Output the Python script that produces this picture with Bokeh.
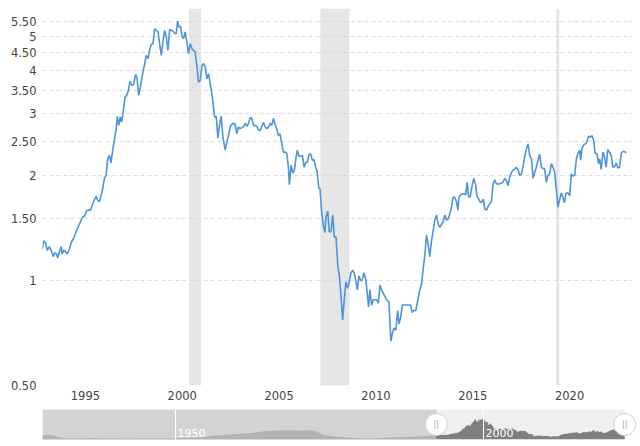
from bokeh.plotting import figure
from bokeh.layouts import column
from bokeh.models import Range1d, FixedTicker, BoxAnnotation
from bokeh.embed import file_html
from bokeh.resources import INLINE
from bokeh.core.properties import value

# ---------------- data ----------------
years = [1992.77, 1992.85, 1992.94, 1993.03, 1993.14, 1993.25, 1993.34, 1993.42, 1993.51, 1993.57,
         1993.68, 1993.75, 1993.80, 1993.88, 1993.97, 1994.06, 1994.18, 1994.28, 1994.40, 1994.52,
         1994.62, 1994.74, 1994.86, 1994.96, 1995.05, 1995.17, 1995.26, 1995.35, 1995.46, 1995.55,
         1995.63, 1995.72, 1995.81, 1995.89, 1995.98, 1996.07, 1996.15, 1996.24, 1996.32, 1996.41,
         1996.49, 1996.58, 1996.65, 1996.72, 1996.80, 1996.87, 1996.96, 1997.05, 1997.13, 1997.22,
         1997.30, 1997.39, 1997.49, 1997.59, 1997.66, 1997.75, 1997.84, 1997.92, 1998.06, 1998.14,
         1998.23, 1998.31, 1998.40, 1998.49, 1998.57, 1998.66, 1998.75, 1998.83, 1998.92, 1999.01,
         1999.09, 1999.18, 1999.26, 1999.35, 1999.43, 1999.52, 1999.60, 1999.69, 1999.76, 1999.83,
         1999.91, 2000.00, 2000.07, 2000.15, 2000.24, 2000.32, 2000.41, 2000.50, 2000.58, 2000.67,
         2000.76, 2000.84, 2000.93, 2001.02, 2001.10, 2001.19, 2001.27, 2001.36, 2001.44, 2001.53,
         2001.61, 2001.67, 2001.75, 2001.84, 2001.92, 2002.01, 2002.10, 2002.22, 2002.30, 2002.39,
         2002.47, 2002.56, 2002.64, 2002.73, 2002.82, 2002.90, 2002.99, 2003.08, 2003.16, 2003.25,
         2003.34, 2003.42, 2003.51, 2003.59, 2003.68, 2003.76, 2003.85, 2003.93, 2004.02, 2004.11,
         2004.19, 2004.28, 2004.37, 2004.45, 2004.54, 2004.62, 2004.71, 2004.79, 2004.88, 2004.96,
         2005.05, 2005.14, 2005.22, 2005.31, 2005.40, 2005.48, 2005.53, 2005.62, 2005.71, 2005.79,
         2005.88, 2005.94, 2006.03, 2006.12, 2006.20, 2006.29, 2006.38, 2006.46, 2006.55, 2006.63,
         2006.72, 2006.80, 2006.89, 2006.97, 2007.05, 2007.11, 2007.20, 2007.28, 2007.36, 2007.42,
         2007.51, 2007.59, 2007.68, 2007.77, 2007.85, 2007.94, 2008.03, 2008.11, 2008.20, 2008.28,
         2008.37, 2008.45, 2008.54, 2008.62, 2008.71, 2008.80, 2008.88, 2008.97, 2009.04, 2009.12,
         2009.21, 2009.29, 2009.38, 2009.47, 2009.55, 2009.62, 2009.69, 2009.78, 2009.86, 2009.95,
         2010.04, 2010.12, 2010.21, 2010.29, 2010.38, 2010.46, 2010.55, 2010.67, 2010.77, 2010.86,
         2010.94, 2011.03, 2011.12, 2011.19, 2011.27, 2011.36, 2011.46, 2011.58, 2011.67, 2011.79,
         2011.87, 2011.96, 2012.06, 2012.18, 2012.27, 2012.36, 2012.44, 2012.53, 2012.61, 2012.70,
         2012.78, 2012.87, 2012.95, 2013.04, 2013.13, 2013.21, 2013.30, 2013.39, 2013.47, 2013.56,
         2013.64, 2013.73, 2013.81, 2013.90, 2013.98, 2014.07, 2014.16, 2014.23, 2014.29, 2014.38,
         2014.47, 2014.55, 2014.64, 2014.71, 2014.78, 2014.86, 2014.95, 2015.05, 2015.14, 2015.22,
         2015.31, 2015.40, 2015.48, 2015.55, 2015.62, 2015.71, 2015.79, 2015.88, 2015.96, 2016.05,
         2016.13, 2016.22, 2016.30, 2016.39, 2016.48, 2016.56, 2016.65, 2016.74, 2016.82, 2016.91,
         2017.00, 2017.08, 2017.16, 2017.25, 2017.34, 2017.42, 2017.51, 2017.59, 2017.68, 2017.77,
         2017.85, 2017.94, 2018.03, 2018.11, 2018.20, 2018.28, 2018.37, 2018.45, 2018.54, 2018.62,
         2018.71, 2018.80, 2018.88, 2018.97, 2019.06, 2019.14, 2019.23, 2019.31, 2019.40, 2019.48,
         2019.57, 2019.65, 2019.74, 2019.81, 2019.91, 2020.00, 2020.09, 2020.17, 2020.26, 2020.35,
         2020.43, 2020.52, 2020.57, 2020.63, 2020.72, 2020.81, 2020.89, 2020.98, 2021.07, 2021.15,
         2021.24, 2021.32, 2021.41, 2021.49, 2021.55, 2021.63, 2021.72, 2021.80, 2021.89, 2021.97,
         2022.06, 2022.15, 2022.23, 2022.32, 2022.41, 2022.49, 2022.58, 2022.67, 2022.75, 2022.84,
         2022.92]

ratio = [1.23, 1.30, 1.28, 1.22, 1.25, 1.21, 1.17, 1.20, 1.19, 1.16,
         1.22, 1.25, 1.19, 1.22, 1.21, 1.19, 1.23, 1.29, 1.32, 1.38,
         1.42, 1.47, 1.52, 1.53, 1.58, 1.59, 1.59, 1.64, 1.70, 1.74,
         1.70, 1.68, 1.75, 1.83, 1.96, 2.00, 2.23, 2.28, 2.17, 2.36,
         2.52, 2.69, 2.95, 2.78, 2.94, 2.84, 3.07, 3.35, 3.39, 3.50,
         3.72, 3.62, 3.64, 3.89, 3.82, 3.39, 3.58, 3.82, 4.18, 4.41,
         4.32, 4.56, 4.74, 4.77, 5.26, 5.20, 5.15, 4.77, 4.41, 4.87,
         5.20, 4.98, 4.56, 5.24, 5.20, 5.18, 5.11, 5.09, 5.53, 5.32,
         5.34, 4.98, 4.93, 5.15, 4.82, 4.46, 4.77, 4.61, 4.56, 4.51,
         4.09, 3.70, 3.74, 4.13, 4.18, 4.09, 3.78, 3.91, 3.66, 3.43,
         3.14, 2.94, 2.95, 2.56, 2.78, 2.95, 2.57, 2.36, 2.49, 2.60,
         2.75, 2.80, 2.82, 2.80, 2.63, 2.75, 2.72, 2.74, 2.75, 2.82,
         2.76, 2.82, 2.93, 2.91, 2.78, 2.78, 2.76, 2.70, 2.69, 2.76,
         2.84, 2.75, 2.72, 2.75, 2.82, 2.78, 2.91, 2.80, 2.72, 2.60,
         2.63, 2.46, 2.33, 2.33, 2.31, 2.11, 1.88, 2.14, 2.03, 2.07,
         2.26, 2.36, 2.26, 2.27, 2.28, 2.11, 2.18, 2.18, 2.30, 2.30,
         2.21, 2.22, 2.11, 2.04, 1.84, 1.83, 1.57, 1.44, 1.37, 1.52,
         1.58, 1.38, 1.38, 1.54, 1.33, 1.33, 1.10, 1.03, 0.90, 0.77,
         0.89, 0.99, 0.95, 0.99, 1.05, 1.07, 1.05, 0.99, 0.94, 1.03,
         1.00, 1.00, 1.05, 1.01, 0.92, 0.84, 0.94, 0.85, 0.88, 0.88,
         0.88, 0.86, 0.97, 0.94, 0.92, 0.90, 0.88, 0.87, 0.67, 0.71,
         0.73, 0.72, 0.82, 0.75, 0.78, 0.85, 0.85, 0.85, 0.85, 0.85,
         0.81, 0.82, 0.82, 0.89, 0.94, 0.98, 1.08, 1.19, 1.35, 1.26,
         1.17, 1.30, 1.38, 1.49, 1.54, 1.45, 1.42, 1.45, 1.47, 1.54,
         1.49, 1.50, 1.55, 1.62, 1.73, 1.73, 1.68, 1.59, 1.73, 1.76,
         1.77, 1.77, 1.76, 1.91, 1.74, 1.73, 1.85, 1.96, 1.89, 1.74,
         1.71, 1.67, 1.68, 1.71, 1.60, 1.59, 1.63, 1.66, 1.68, 1.89,
         1.94, 1.89, 1.89, 1.89, 1.90, 1.91, 1.96, 1.93, 1.87, 1.98,
         2.04, 2.07, 2.08, 2.11, 2.07, 2.00, 2.02, 2.11, 2.26, 2.38,
         2.46, 2.28, 2.23, 1.96, 2.04, 2.11, 2.21, 2.30, 2.11, 2.09,
         2.09, 1.91, 2.00, 2.02, 2.16, 2.11, 2.04, 1.83, 1.62, 1.70,
         1.78, 1.73, 1.67, 1.78, 1.78, 1.75, 2.02, 1.99, 2.00, 2.23,
         2.31, 2.36, 2.21, 2.38, 2.44, 2.46, 2.49, 2.59, 2.57, 2.60,
         2.52, 2.31, 2.31, 2.16, 2.23, 2.08, 2.33, 2.26, 2.11, 2.37,
         2.33, 2.28, 2.11, 2.12, 2.17, 2.10, 2.11, 2.32, 2.34, 2.34,
         2.32]

# shaded recession periods (as placed in the picture)
rec_start = [2000.35, 2007.13, 2019.30]
rec_end = [2000.98, 2008.63, 2019.47]

# long history shown in the navigator (before the main window)
hist_years = [1928.4, 1929, 1929.6, 1930, 1930.6, 1931, 1931.6, 1932, 1933, 1935, 1937, 1938, 1940,
              1942, 1944, 1946, 1948, 1950, 1952, 1954, 1956, 1958, 1960, 1962, 1964, 1966,
              1968, 1970, 1972, 1973, 1974, 1975, 1976, 1978, 1980, 1982, 1984, 1986, 1988,
              1990, 1991, 1992]
hist_ratio = [1.0, 1.2, 1.3, 1.1, 0.9, 0.6, 0.4, 0.3, 0.3, 0.35, 0.4, 0.3, 0.3,
              0.25, 0.3, 0.35, 0.3, 0.35, 0.5, 0.6, 0.95, 1.2, 1.45, 1.7, 2.1, 2.3,
              2.45, 2.3, 2.45, 2.0, 1.15, 1.0, 0.8, 0.5, 0.3, 0.35, 0.45, 0.6, 0.7,
              0.8, 1.0, 1.1]

nav_sel_start = 1992.32
nav_label_years = [1950, 2000]
nav_label_text = ["1950", "2000"]

y_ticks = [0.5, 1.0, 1.5, 2.0, 2.5, 3.0, 3.5, 4.0, 4.5, 5.0, 5.5]
y_tick_labels = ["0.50", "1", "1.50", "2", "2.50", "3", "3.50", "4", "4.50", "5", "5.50"]
x_ticks = [1995, 2000, 2005, 2010, 2015, 2020]

FONT = "DejaVu Sans"
FSIZE = "11.5px"
LABEL_COLOR = "#444444"
LINE_COLOR = "#4d94db"

# ---------------- main chart ----------------
p = figure(width=640, height=405,
           x_range=Range1d(1992.784, 2023.247),
           y_range=Range1d(0.5, 6.01), y_axis_type="log",
           output_backend="svg", toolbar_location=None,
           min_border_left=42, min_border_right=8, min_border_top=8, min_border_bottom=20)
p.outline_line_color = None
p.background_fill_color = "white"
p.border_fill_color = "white"

for s, e in zip(rec_start, rec_end):
    p.add_layout(BoxAnnotation(left=s, right=e, fill_color="#d6d6d6", fill_alpha=0.6,
                               line_alpha=0, level="underlay"))

p.line(years, ratio, line_color=LINE_COLOR, line_width=1.6)

p.yaxis.ticker = FixedTicker(ticks=y_ticks)
p.yaxis.major_label_overrides = dict(zip(y_ticks, y_tick_labels))
p.xaxis.ticker = FixedTicker(ticks=x_ticks)
for ax in (p.xaxis[0], p.yaxis[0]):
    ax.axis_line_color = None
    ax.major_tick_line_color = None
    ax.minor_tick_line_color = None
    ax.major_tick_out = 0
    ax.major_tick_in = 0
    ax.major_label_text_font = FONT
    ax.major_label_text_font_size = FSIZE
    ax.major_label_text_color = LABEL_COLOR
p.yaxis.major_label_standoff = 6
p.xaxis.major_label_standoff = 5

p.xgrid.visible = False
p.ygrid.grid_line_color = "#dddddd"
p.ygrid.grid_line_dash = "4 3"
p.ygrid.grid_line_width = 1

# ---------------- navigator ----------------
nav_x = hist_years + years
nav_y = hist_ratio + ratio
nav_ymin, nav_ymax = 0.0, 7.8

nav = figure(width=640, height=41,
             x_range=Range1d(1928.4, 2024.18), y_range=Range1d(nav_ymin, nav_ymax),
             output_backend="svg", toolbar_location=None,
             min_border_left=42, min_border_right=0, min_border_top=4, min_border_bottom=7)
nav.outline_line_color = None
nav.axis.visible = False
nav.ygrid.visible = False
nav.xgrid.ticker = FixedTicker(ticks=nav_label_years)
nav.xgrid.grid_line_color = "white"
nav.xgrid.grid_line_width = 1
nav.xgrid.level = "overlay"

nav.add_layout(BoxAnnotation(left=nav_x[0], right=nav_x[-1], fill_color="#efefef",
                             fill_alpha=1, line_alpha=0, level="underlay"))
nav.varea(x=nav_x, y1=nav_ymin, y2=nav_y, fill_color="#7f7f7f")
nav.add_layout(BoxAnnotation(left=nav_x[0], right=nav_sel_start, fill_color="#c8c8c8",
                             fill_alpha=0.72, line_alpha=0))

lbl = nav.text(x=nav_label_years, y=[nav_ymin] * len(nav_label_years), text=nav_label_text,
               text_color="white", text_font=value(FONT), text_font_size="11px",
               text_baseline="bottom", x_offset=2, y_offset=-3)
lbl.level = "overlay"

mid = (nav_ymin + nav_ymax) / 2
handle_x = [nav_sel_start, nav_x[-1]]
h = nav.scatter(x=handle_x, y=[mid, mid], size=22, fill_color="white",
                line_color="#cfcfcf", line_width=1)
h.level = "overlay"
g = nav.text(x=handle_x, y=[mid, mid], text=["||", "||"], text_color="#a0a0a0",
             text_font=value(FONT), text_font_size="8px", text_align="center",
             text_baseline="middle")
g.level = "overlay"

layout = column(p, nav, spacing=0)
open("out.html", "w").write(file_html(layout, INLINE))
